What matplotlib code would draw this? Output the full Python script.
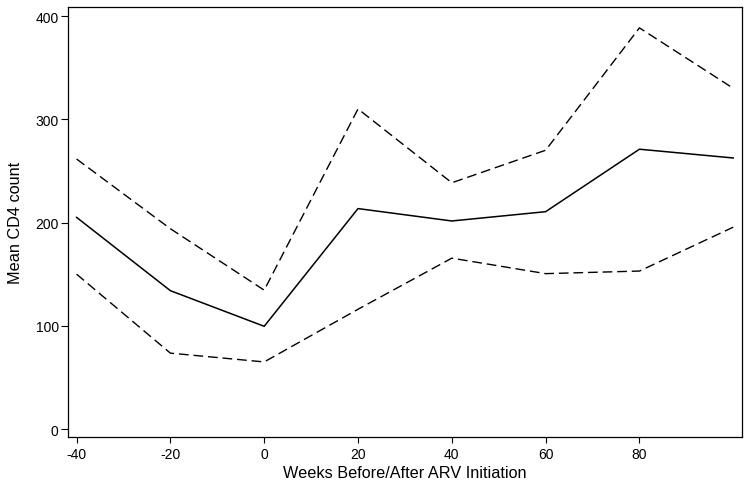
import matplotlib
matplotlib.use("Agg")
import matplotlib.pyplot as plt

plt.rcParams['font.family'] = ['Liberation Sans', 'DejaVu Sans']
plt.rcParams['axes.unicode_minus'] = False

weeks = [-40, -20, 0, 20, 40, 60, 80, 100]
mean_cd4 = [205, 134, 99.5, 213.5, 201.5, 210.5, 271, 262.5]
upper_ci = [261.5, 194, 134.5, 310, 238.5, 270, 388.5, 330]
lower_ci = [150, 73.5, 65, 116, 165.5, 150.5, 153, 195.5]
xticks = [-40, -20, 0, 20, 40, 60, 80]
yticks = [0, 100, 200, 300, 400]

fig = plt.figure(figsize=(7.51, 4.89), dpi=100)
ax = fig.add_axes([0.0901, 0.1043, 0.8975, 0.8793])

ax.plot(weeks, upper_ci, color='black', lw=1.0, linestyle=(0, (7, 3.5)))
ax.plot(weeks, mean_cd4, color='black', lw=1.1)
ax.plot(weeks, lower_ci, color='black', lw=1.0, linestyle=(0, (7, 3.5)))

ax.set_xlim(-41.9, 101.8)
ax.set_ylim(-7.7, 408.7)
ax.set_xticks(xticks)
ax.set_yticks(yticks)
ax.tick_params(axis='x', direction='out', length=4, width=0.8, labelsize=10, colors='black', pad=3)
ax.tick_params(axis='y', direction='out', length=5, width=0.8, labelsize=10, colors='black', pad=1.5)
for s in ax.spines.values():
    s.set_linewidth(0.9)
    s.set_color('black')

ax.set_xlabel('Weeks Before/After ARV Initiation', fontsize=11.7, labelpad=3)
ax.set_ylabel('Mean CD4 count', fontsize=11.7, labelpad=9)

fig.savefig('out.png', dpi=100)
